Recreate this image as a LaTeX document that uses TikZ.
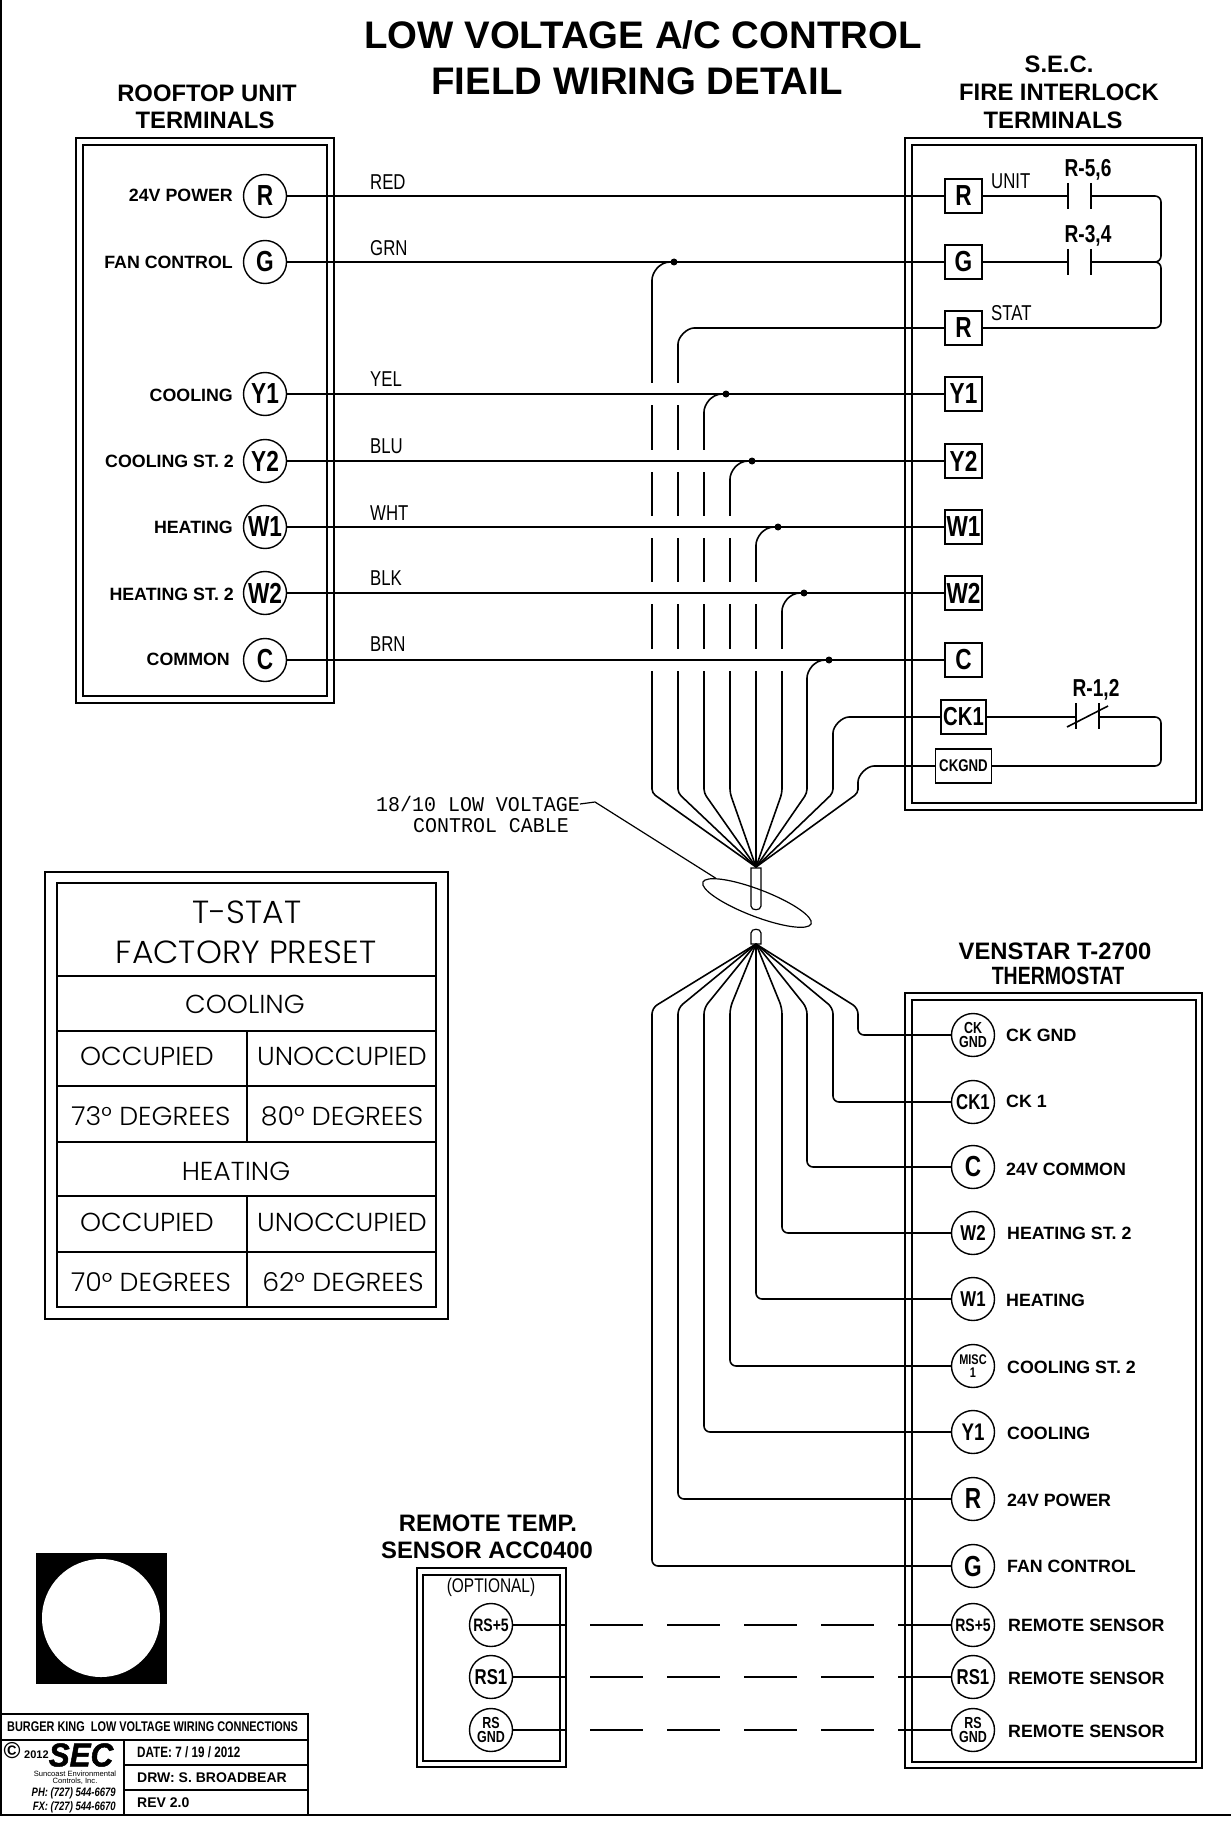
\documentclass[tikz,border=0pt]{standalone}
\usepackage{fontspec}
\setmainfont{Liberation Sans}
\newfontfamily\narrowfont[FakeStretch=0.78]{Liberation Sans}
\newfontfamily\plainmono[FakeStretch=0.95]{Liberation Mono}
\newfontfamily\gothicfont[FakeStretch=1.03]{Poppins Light}
\newfontfamily\logofont[FakeStretch=0.95,FakeBold=1.5]{Liberation Sans}
\usetikzlibrary{shapes.geometric}
\tikzset{
  wire/.style={line width=1.6pt},
  thin line/.style={line width=1.2pt},
  box/.style={line width=1.5pt},
  dotnode/.style={circle,fill=black,inner sep=0pt,minimum size=7pt},
  term/.style={draw,circle,line width=1.4pt,minimum size=43pt,inner sep=0pt,font=\narrowfont\bfseries\fontsize{29}{29}\selectfont},
  termsm/.style={draw,circle,line width=1.4pt,minimum size=43pt,inner sep=0pt,align=center,font=\narrowfont\bfseries\fontsize{16}{14}\selectfont},
  sqr/.style={draw,line width=1.4pt,minimum width=37pt,minimum height=34pt,inner sep=0pt,font=\narrowfont\bfseries\fontsize{29}{29}\selectfont},
  lbl/.style={inner sep=0pt,font=\bfseries\fontsize{17.8}{20}\selectfont},
  head/.style={inner sep=0pt,font=\bfseries\fontsize{23.8}{28}\selectfont},
  colour/.style={inner sep=0pt,anchor=west,font=\narrowfont\fontsize{21.5}{24}\selectfont},
  relay/.style={inner sep=0pt,font=\narrowfont\bfseries\fontsize{24.5}{26}\selectfont},
  cell/.style={inner sep=0pt,font=\gothicfont\fontsize{26}{30}\selectfont},
  block/.style={inner sep=0pt,anchor=west,font=\narrowfont\bfseries\fontsize{15}{18}\selectfont}
}
\begin{document}
\begin{tikzpicture}[x=1pt,y=-1pt]
\useasboundingbox (0,0) rectangle (1231,1843);
\draw [wire] (1,0) -- (1,1815) -- (1231,1815);

\node [inner sep=0pt,font=\bfseries\fontsize{38.4}{47}\selectfont] (title1) at (643,35) {LOW VOLTAGE A/C CONTROL};
\node [inner sep=0pt,font=\bfseries\fontsize{38.4}{47}\selectfont] (title2) at (637,81) {FIELD WIRING DETAIL};

\node [head] (roofhead1) at (207,93) {ROOFTOP UNIT};
\node [head] (roofhead2) at (205,120) {TERMINALS};
\node [head] (sechead1) at (1059,64) {S.E.C.};
\node [head] (sechead2) at (1059,92) {FIRE INTERLOCK};
\node [head] (sechead3) at (1053,120) {TERMINALS};

\draw [box] (76,138) rectangle (334,703);
\draw [box] (83,145) rectangle (327,696);
\draw [box] (905,138) rectangle (1202,810);
\draw [box] (912,145) rectangle (1196,803);

\node [term] (rr) at (265,196) {R};
\node [term] (rg) at (265,262) {G};
\node [term] (ry1) at (265,394) {Y1};
\node [term] (ry2) at (265,461) {Y2};
\node [term] (rw1) at (265,527) {W1};
\node [term] (rw2) at (265,593) {W2};
\node [term] (rc) at (265,660) {C};
\node [lbl,anchor=east] (rlr) at (233,195) {24V POWER};
\node [lbl,anchor=east] (rlg) at (233,262) {FAN CONTROL};
\node [lbl,anchor=east] (rly1) at (233,395) {COOLING};
\node [lbl,anchor=east] (rly2) at (234,461) {COOLING ST. 2};
\node [lbl,anchor=east] (rlw1) at (233,527) {HEATING};
\node [lbl,anchor=east] (rlw2) at (234,594) {HEATING ST. 2};
\node [lbl,anchor=east] (rlc) at (230,659) {COMMON};

\node [sqr] (sr) at (963.5,196) {R};
\node [sqr] (sg) at (963.5,262) {G};
\node [sqr] (sstat) at (963.5,328) {R};
\node [sqr] (sy1) at (963.5,394) {Y1};
\node [sqr] (sy2) at (963.5,461) {Y2};
\node [sqr] (sw1) at (963.5,527) {W1};
\node [sqr] (sw2) at (963.5,593) {W2};
\node [sqr] (sc) at (963.5,660) {C};
\node [sqr,minimum width=45pt,font=\narrowfont\bfseries\fontsize{26}{26}\selectfont] (sck1) at (963.5,717) {CK1};
\node [sqr,minimum width=56pt,font=\narrowfont\bfseries\fontsize{17}{18}\selectfont] (sckg) at (963.5,766) {CKGND};

\coordinate (fantop) at (756,867);
\coordinate (fanbot) at (756,944);
\node [dotnode] (dotg) at (674,262) {};
\node [dotnode] (doty1) at (726,394) {};
\node [dotnode] (doty2) at (752,461) {};
\node [dotnode] (dotw1) at (778,527) {};
\node [dotnode] (dotw2) at (804,593) {};
\node [dotnode] (dotc) at (829,660) {};

\draw [wire,rounded corners=4pt] (dotg) to[out=180,in=90] (652,284) -- (652,793) -- (fantop);
\draw [wire,rounded corners=4pt] (sstat) -- (698,328) to[out=180,in=90] (678,348) -- (678,793) -- (fantop);
\draw [wire,rounded corners=4pt] (doty1) to[out=180,in=90] (704,416) -- (704,793) -- (fantop);
\draw [wire,rounded corners=4pt] (doty2) to[out=180,in=90] (730,483) -- (730,793) -- (fantop);
\draw [wire,rounded corners=4pt] (dotw1) to[out=180,in=90] (756,549) -- (756,793) -- (fantop);
\draw [wire,rounded corners=4pt] (dotw2) to[out=180,in=90] (782,615) -- (782,793) -- (fantop);
\draw [wire,rounded corners=4pt] (dotc) to[out=180,in=90] (807,682) -- (807,793) -- (fantop);
\draw [wire,rounded corners=4pt] (sck1) -- (853,717) to[out=180,in=90] (833,737) -- (833,793) -- (fantop);
\draw [wire,rounded corners=4pt] (sckg) -- (878,766) to[out=180,in=90] (858,786) -- (858,793) -- (fantop);

\fill [white] (645,383) rectangle (690,405);
\fill [white] (645,450) rectangle (716,472);
\fill [white] (645,516) rectangle (742,538);
\fill [white] (645,582) rectangle (768,604);
\fill [white] (645,649) rectangle (794,671);

\draw [wire] (rr) edge (sr);
\draw [wire] (rg) edge (sg);
\draw [wire] (ry1) edge (sy1);
\draw [wire] (ry2) edge (sy2);
\draw [wire] (rw1) edge (sw1);
\draw [wire] (rw2) edge (sw2);
\draw [wire] (rc) edge (sc);

\node [colour] (cred) at (370,182) {RED};
\node [colour] (cgrn) at (370,248) {GRN};
\node [colour] (cyel) at (370,379) {YEL};
\node [colour] (cblu) at (370,446) {BLU};
\node [colour] (cwht) at (370,513) {WHT};
\node [colour] (cblk) at (370,578) {BLK};
\node [colour] (cbrn) at (370,644) {BRN};
\node [colour] (cunit) at (991,181) {UNIT};
\node [colour] (cstat) at (991,313) {STAT};

\coordinate (k1a) at (1068,196);
\coordinate (k1b) at (1091,196);
\coordinate (k2a) at (1068,262);
\coordinate (k2b) at (1091,262);
\coordinate (k3a) at (1076,717);
\coordinate (k3b) at (1099,717);
\node [relay] (k1) at (1088,170) {R-5,6};
\node [relay] (k2) at (1088,236) {R-3,4};
\node [relay] (k3) at (1096,690) {R-1,2};
\draw [wire] (sr) edge (k1a);
\draw [wire] (sg) edge (k2a);
\draw [wire] (sck1) edge (k3a);
\draw [wire] (1068,183) -- (1068,209);
\draw [wire] (1091,183) -- (1091,209);
\draw [wire] (1068,249) -- (1068,275);
\draw [wire] (1091,249) -- (1091,275);
\draw [wire] (1076,703) -- (1076,729);
\draw [wire] (1099,703) -- (1099,729);
\draw [wire] (1067,727) -- (1108,706);
\draw [wire,rounded corners=6pt] (k1b) -- (1161,196) -- (1161,262) -- (k2b);
\draw [wire,rounded corners=6pt] (k2b) -- (1161,262) -- (1161,328) -- (sstat);
\draw [wire,rounded corners=6pt] (k3b) -- (1161,717) -- (1161,766) -- (sckg);

\node [inner sep=0pt,font=\plainmono\fontsize{21}{24}\selectfont] (cable1) at (478,804) {18/10 LOW VOLTAGE};
\node [inner sep=0pt,font=\plainmono\fontsize{21}{24}\selectfont] (cable2) at (491,826) {CONTROL CABLE};
\node [draw,ellipse,thin line,minimum width=116pt,minimum height=27pt,inner sep=0pt,rotate=-21] (cableloop) at (757,903) {};
\draw [thin line] (cable1.east) -- (595,802) -- (cableloop.170);
\draw [thin line] (751,868) -- (761,868) -- (761,906) .. controls (761,911) and (751,911) .. (751,906) -- cycle;
\draw [thin line] (751,944) -- (761,944) -- (761,933) .. controls (761,928) and (751,928) .. (751,933) -- cycle;

\node [head] (venstar) at (1055,951) {VENSTAR T-2700};
\node [head,font=\narrowfont\bfseries\fontsize{25}{26}\selectfont] (thermo) at (1058,976) {THERMOSTAT};
\draw [box] (905,993) rectangle (1202,1768);
\draw [box] (912,1000) rectangle (1196,1762);

\node [termsm] (tckg) at (973,1035) {CK\\GND};
\node [term,font=\narrowfont\bfseries\fontsize{21.5}{21}\selectfont] (tck1) at (973,1102) {CK1};
\node [term] (tc) at (973,1167) {C};
\node [term,font=\narrowfont\bfseries\fontsize{21.5}{21}\selectfont] (tw2) at (973,1233) {W2};
\node [term,font=\narrowfont\bfseries\fontsize{21.5}{21}\selectfont] (tw1) at (973,1299) {W1};
\node [termsm,font=\narrowfont\bfseries\fontsize{14}{13}\selectfont] (tm1) at (973,1366) {MISC\\1};
\node [term,font=\narrowfont\bfseries\fontsize{24}{24}\selectfont] (ty1) at (973,1432) {Y1};
\node [term] (tr) at (973,1499) {R};
\node [term] (tg) at (973,1566) {G};
\node [termsm,font=\narrowfont\bfseries\fontsize{18}{18}\selectfont] (trs5) at (973,1625) {RS+5};
\node [term,font=\narrowfont\bfseries\fontsize{21.5}{21}\selectfont] (trs1) at (973,1677) {RS1};
\node [termsm] (trsg) at (973,1730) {RS\\GND};

\node [lbl,anchor=west] (tlckg) at (1006,1035) {CK GND};
\node [lbl,anchor=west] (tlck1) at (1006,1101) {CK 1};
\node [lbl,anchor=west] (tlc) at (1006,1169) {24V COMMON};
\node [lbl,anchor=west] (tlw2) at (1007,1233) {HEATING ST. 2};
\node [lbl,anchor=west] (tlw1) at (1006,1300) {HEATING};
\node [lbl,anchor=west] (tlm1) at (1007,1367) {COOLING ST. 2};
\node [lbl,anchor=west] (tly1) at (1007,1433) {COOLING};
\node [lbl,anchor=west] (tlr) at (1007,1500) {24V POWER};
\node [lbl,anchor=west] (tlg) at (1007,1566) {FAN CONTROL};
\node [lbl,anchor=west] (tlrs5) at (1008,1625) {REMOTE SENSOR};
\node [lbl,anchor=west] (tlrs1) at (1008,1678) {REMOTE SENSOR};
\node [lbl,anchor=west] (tlrsg) at (1008,1731) {REMOTE SENSOR};

\draw [wire,rounded corners=6pt] (fanbot) -- (858,1008) -- (858,1035) -- (tckg);
\draw [wire,rounded corners=6pt] (fanbot) -- (833,1008) -- (833,1102) -- (tck1);
\draw [wire,rounded corners=6pt] (fanbot) -- (807,1008) -- (807,1167) -- (tc);
\draw [wire,rounded corners=6pt] (fanbot) -- (782,1008) -- (782,1233) -- (tw2);
\draw [wire,rounded corners=6pt] (fanbot) -- (756,1008) -- (756,1299) -- (tw1);
\draw [wire,rounded corners=6pt] (fanbot) -- (730,1008) -- (730,1366) -- (tm1);
\draw [wire,rounded corners=6pt] (fanbot) -- (704,1008) -- (704,1432) -- (ty1);
\draw [wire,rounded corners=6pt] (fanbot) -- (678,1008) -- (678,1499) -- (tr);
\draw [wire,rounded corners=6pt] (fanbot) -- (652,1008) -- (652,1566) -- (tg);

\node [head] (remote1) at (488,1523) {REMOTE TEMP.};
\node [head] (remote2) at (487,1550) {SENSOR ACC0400};
\draw [box] (417,1568) rectangle (566,1767);
\draw [box] (423,1575) rectangle (560,1761);
\node [inner sep=0pt,font=\narrowfont\fontsize{19.8}{20}\selectfont] (optional) at (491,1587) {(OPTIONAL)};
\node [termsm,font=\narrowfont\bfseries\fontsize{18}{18}\selectfont] (prs5) at (491,1625) {RS+5};
\node [term,font=\narrowfont\bfseries\fontsize{21.5}{21}\selectfont] (prs1) at (491,1677) {RS1};
\node [termsm] (prsg) at (491,1730) {RS\\GND};
\draw [wire,dash pattern=on 52.8pt off 24.2pt] (prs5) -- (trs5);
\draw [wire,dash pattern=on 52.8pt off 24.2pt] (prs1) -- (trs1);
\draw [wire,dash pattern=on 52.8pt off 24.2pt] (prsg) -- (trsg);

\draw [box] (45,872) rectangle (448,1319);
\draw [box] (57,883) rectangle (436,1307);
\draw [thin line] (57,976) -- (436,976);
\draw [thin line] (57,1031) -- (436,1031);
\draw [thin line] (57,1086) -- (436,1086);
\draw [thin line] (57,1142) -- (436,1142);
\draw [thin line] (57,1196) -- (436,1196);
\draw [thin line] (57,1252) -- (436,1252);
\draw [thin line] (247,1031) -- (247,1142);
\draw [thin line] (247,1196) -- (247,1307);
\node [cell,font=\gothicfont\fontsize{32}{36}\selectfont] (preset1) at (247,912) {T-STAT};
\node [cell,font=\gothicfont\fontsize{32}{36}\selectfont] (preset2) at (246,952) {FACTORY PRESET};
\node [cell] (cooling) at (245,1004) {COOLING};
\node [cell] (occ1) at (147,1056) {OCCUPIED};
\node [cell] (unocc1) at (342,1056) {UNOCCUPIED};
\node [cell] (deg73) at (151,1116) {73° DEGREES};
\node [cell] (deg80) at (342,1116) {80° DEGREES};
\node [cell] (heating) at (236,1171) {HEATING};
\node [cell] (occ2) at (147,1222) {OCCUPIED};
\node [cell] (unocc2) at (342,1222) {UNOCCUPIED};
\node [cell] (deg70) at (151,1282) {70° DEGREES};
\node [cell] (deg62) at (343,1282) {62° DEGREES};

\fill (36,1553) rectangle (167,1684);
\fill [white] (101,1618) circle (59);

\draw [box] (0,1714) rectangle (308,1815);
\draw [box] (0,1740) -- (308,1740);
\draw [box] (124,1740) -- (124,1815);
\draw [box] (124,1765) -- (308,1765);
\draw [box] (124,1790) -- (308,1790);
\node [block,font=\narrowfont\bfseries\fontsize{14}{18}\selectfont] (blocktitle) at (7,1727) {BURGER KING\ \ LOW VOLTAGE WIRING CONNECTIONS};
\node [inner sep=0pt,font=\bfseries\fontsize{23}{24}\selectfont] (copy) at (12,1751) {©};
\node [inner sep=0pt,anchor=west,font=\bfseries\fontsize{11}{12}\selectfont] (year) at (24,1755) {2012};
\node [inner sep=0pt,font=\logofont\bfseries\itshape\fontsize{33}{33}\selectfont] (logo) at (81,1755) {SEC};
\node [inner sep=0pt,font=\fontsize{7.6}{9}\selectfont] (company1) at (75,1774) {Suncoast Environmental};
\node [inner sep=0pt,font=\fontsize{7.6}{9}\selectfont] (company2) at (75,1781) {Controls, Inc.};
\node [inner sep=0pt,anchor=east,font=\narrowfont\bfseries\itshape\fontsize{12.2}{15}\selectfont] (phone) at (116,1793) {PH: (727) 544-6679};
\node [inner sep=0pt,anchor=east,font=\narrowfont\bfseries\itshape\fontsize{12.2}{15}\selectfont] (fax) at (116,1807) {FX: (727) 544-6670};
\node [block] (blockdate) at (137,1752) {DATE: 7 / 19 / 2012};
\node [block,font=\bfseries\fontsize{14}{18}\selectfont] (blockdrw) at (137,1778) {DRW: S. BROADBEAR};
\node [block,font=\bfseries\fontsize{14}{18}\selectfont] (blockrev) at (137,1803) {REV 2.0};
\end{tikzpicture}
\end{document}
